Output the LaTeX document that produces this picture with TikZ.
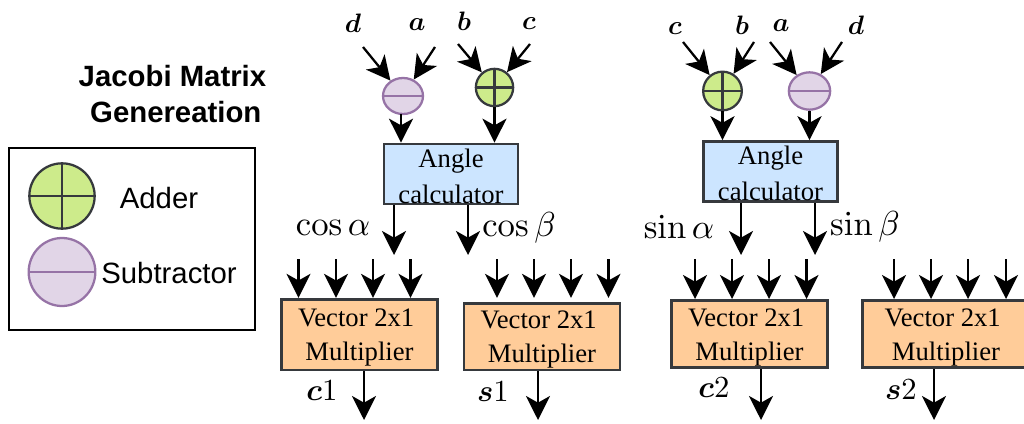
\documentclass[tikz,border=0pt]{standalone}
\usepackage{amsmath}
\usepackage{amssymb}
\usepackage[no-math]{fontspec}
\setmainfont{Liberation Serif}
\newfontfamily\legendfont{Liberation Sans}
\DeclareFontShape{OML}{cmm}{m}{it}{<-> cmmi10}{}
\DeclareFontShape{OML}{cmm}{b}{it}{<-> cmmib10}{}
\DeclareFontShape{OT1}{cmr}{m}{n}{<-> cmr10}{}
\usepackage{tikz}
\usetikzlibrary{arrows.meta}
\usetikzlibrary{shapes}
\usetikzlibrary{positioning}
\definecolor{addfill}{HTML}{CDEB8B}
\definecolor{subfill}{HTML}{E1D5E7}
\definecolor{subline}{HTML}{9673A6}
\definecolor{boxline}{HTML}{36393D}
\definecolor{anglefill}{HTML}{CCE5FF}
\definecolor{multfill}{HTML}{FFCC99}
\def\anglelabel{\rule{0pt}{17pt}Angle\\calculator}
\def\multlabel{\rule{0pt}{18pt}Vector 2x1\hspace*{5pt}\\Multiplier}
\begin{document}
\begin{tikzpicture}[
            x=0.75pt, y=-0.75pt,
            adder/.style={
                circle, draw=boxline, line width=1.7pt, fill=addfill, inner sep=0pt,
                path picture={
                    \draw[boxline, line width=1.7pt] (path picture bounding box.north) -- (path picture bounding box.south);
                    \draw[boxline, line width=1.7pt] (path picture bounding box.west) -- (path picture bounding box.east);
                },
            },
            subber/.style={
                ellipse, draw=subline, line width=1.7pt, fill=subfill, inner sep=0pt,
                path picture={
                    \draw[subline, line width=1.7pt] (path picture bounding box.west) -- (path picture bounding box.east);
                },
            },
            anglebox/.style={
                draw=boxline, line width=2pt, fill=anglefill, inner xsep=0pt, inner ysep=-8pt,
                minimum width=100.4pt, minimum height=45pt,
                align=center, font=\fontsize{20}{27}\selectfont,
            },
            multbox/.style={
                draw=boxline, line width=2pt, fill=multfill, inner sep=0pt,
                minimum width=117pt, align=center, font=\fontsize{20}{25.5}\selectfont,
            },
            sumlabel/.style={font=\fontsize{20}{24}\selectfont},
            outlabel/.style={font=\fontsize{23}{27}\selectfont},
            sizelabel/.style={font=\fontsize{26}{30}\selectfont},
            legend/.style={font=\fontsize{22}{27}\selectfont\legendfont},
            flow/.style={-{Stealth[length=18pt, width=18pt, inset=5pt]}, line width=1.7pt, black},
        ]
            \useasboundingbox (0,0) rectangle (1024,424);

            % --- legend ---
            \node[legend, font=\fontsize{22}{27}\selectfont\legendfont\bfseries, align=center] (title) at (175.8,94) {Jacobi Matrix\hspace*{5pt}\\Genereation};
            \node[draw=black, line width=1.5pt, minimum width=184pt, minimum height=136pt, inner sep=0pt] (keybox) at (132,239) {};
            \node[adder, minimum size=49pt] (keyadd) at (62,196) {};
            \node[subber, minimum width=50pt, minimum height=51pt] (keysub) at (62,272) {};
            \node[legend] (keyaddtext) at (159,198) {Adder};
            \node[legend] (keysubtext) at (169,273) {Subtractor};

            % --- left block ---
            \node[subber, minimum width=30pt, minimum height=27pt] (sub1) at (403,96) {};
            \node[adder, minimum size=28pt] (add1) at (494.5,87.5) {};
            \node[anglebox] (angle1) at (451,174) {\anglelabel};
            \node[multbox, minimum height=53pt] (mult1) at (359.5,334.5) {\multlabel};
            \node[multbox, minimum height=50pt] (mult2) at (542,336.5) {\multlabel};

            \node[sumlabel] (lbld1) at (353,23) {$\boldsymbol{d}$};
            \node[sumlabel] (lbla1) at (417,25) {$\boldsymbol{a}$};
            \node[sumlabel] (lblb1) at (464,21) {$\boldsymbol{b}$};
            \node[sumlabel] (lblc1) at (529,24) {$\boldsymbol{c}$};
            \coordinate (ind1) at (363,47);
            \coordinate (ina1) at (435,47);
            \coordinate (inb1) at (458,44);
            \coordinate (inc1) at (530,44);
            \coordinate (sub1out) at (401,114);
            \draw[flow] (ind1) -- (sub1);
            \draw[flow] (ina1) -- (sub1);
            \draw[flow] (inb1) -- (add1);
            \draw[flow] (inc1) -- (add1);
            \draw[flow] (sub1out) -- (sub1out |- angle1.north);
            \draw[flow] (add1) -- (add1 |- angle1.north);

            % --- cos outputs ---
            \coordinate (cosa) at (394,255);
            \coordinate (cosb) at (468,255);
            \draw[flow] (cosa |- angle1.south) -- (cosa);
            \draw[flow] (cosb |- angle1.south) -- (cosb);
            \node[sizelabel] (lblcosa) at (333,228) {$\cos\alpha$};
            \node[sizelabel] (lblcosb) at (519,228) {$\cos\beta$};

            \foreach \i/\x in {1/298.5, 2/336, 3/373, 4/410.5} {
                \coordinate (ma\i) at (\x,259);
                \draw[flow] (ma\i) -- (ma\i |- mult1.north);
            }
            \foreach \i/\x in {1/497, 2/534, 3/571, 4/608.5} {
                \coordinate (mb\i) at (\x,259);
                \draw[flow, shorten >=3pt] (mb\i) -- (mb\i |- mult2.north);
            }

            \coordinate (outc1) at (364,420);
            \coordinate (outs1) at (538,420);
            \draw[flow] (outc1 |- mult1.south) -- (outc1);
            \draw[flow] (outs1 |- mult2.south) -- (outs1);
            \node[outlabel] (lblc1out) at (322,391) {$\boldsymbol{c}1$};
            \node[outlabel] (lbls1out) at (493,392) {$\boldsymbol{s}1$};

            % --- right block ---
            \node[adder, minimum size=29pt] (add2) at (722.5,91) {};
            \node[subber, minimum width=31pt, minimum height=28pt] (sub2) at (809.5,91) {};
            \node[anglebox] (angle2) at (770.5,171.5) {\anglelabel};
            \node[multbox, minimum height=50.5pt] (mult3) at (749.5,334) {\multlabel};
            \node[multbox, minimum width=125pt, minimum height=50.5pt] (mult4) at (946,334) {\multlabel};

            \node[sumlabel] (lblc2) at (675,29) {$\boldsymbol{c}$};
            \node[sumlabel] (lblb2) at (742,25) {$\boldsymbol{b}$};
            \node[sumlabel] (lbla2) at (781,26) {$\boldsymbol{a}$};
            \node[sumlabel] (lbld2) at (856,25) {$\boldsymbol{d}$};
            \coordinate (inc2) at (683,42);
            \coordinate (inb2) at (754,42);
            \coordinate (ina2) at (770,42);
            \coordinate (ind2) at (842,42);
            \draw[flow] (inc2) -- (add2);
            \draw[flow] (inb2) -- (add2);
            \draw[flow] (ina2) -- (sub2);
            \draw[flow] (ind2) -- (sub2);
            \draw[flow] (add2) -- (add2 |- angle2.north);
            \draw[flow] (sub2) -- (sub2 |- angle2.north);

            % --- sin outputs ---
            \coordinate (sina) at (741,255);
            \coordinate (sinb) at (815,255);
            \draw[flow] (sina |- angle2.south) -- (sina);
            \draw[flow] (sinb |- angle2.south) -- (sinb);
            \node[sizelabel] (lblsina) at (679,227) {$\sin\alpha$};
            \node[sizelabel] (lblsinb) at (865,227) {$\sin\beta$};

            \foreach \i/\x in {1/695, 2/732, 3/769, 4/806.5} {
                \coordinate (mc\i) at (\x,259);
                \draw[flow] (mc\i) -- (mc\i |- mult3.north);
            }
            \foreach \i/\x in {1/894, 2/931, 3/968, 4/1006} {
                \coordinate (md\i) at (\x,259);
                \draw[flow] (md\i) -- (md\i |- mult4.north);
            }

            \coordinate (outc2) at (761,420);
            \coordinate (outs2) at (934,420);
            \draw[flow] (outc2 |- mult3.south) -- (outc2);
            \draw[flow] (outs2 |- mult4.south) -- (outs2);
            \node[outlabel] (lblc2out) at (714,388) {$\boldsymbol{c}2$};
            \node[outlabel] (lbls2out) at (901,390) {$\boldsymbol{s}2$};
\end{tikzpicture}
\end{document}
